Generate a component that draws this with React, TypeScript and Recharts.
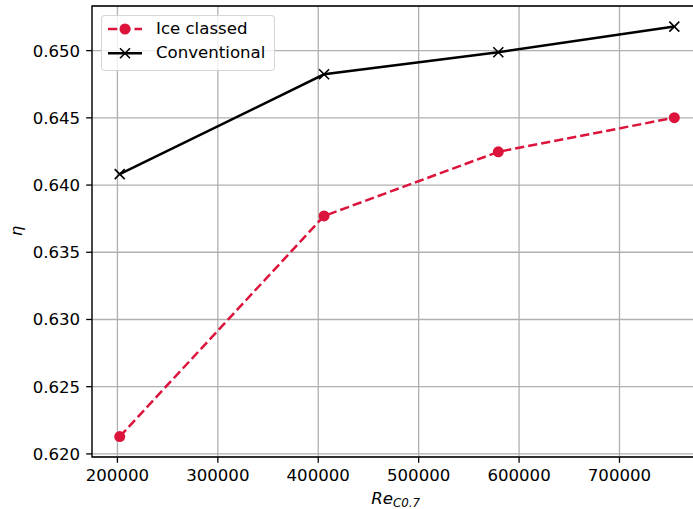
import {
  LineChart,
  Line,
  XAxis,
  YAxis,
  CartesianGrid,
  ReferenceArea,
} from 'recharts';

// Reynolds number at r/R = 0.7
const reynolds = [202300, 405800, 579300, 754600];
const iceClassed = [0.62129, 0.6377, 0.64247, 0.64501];
const conventional = [0.64081, 0.64824, 0.64988, 0.65179];

const xTicks = [200000, 300000, 400000, 500000, 600000, 700000];
const yTicks = [0.62, 0.625, 0.63, 0.635, 0.64, 0.645, 0.65];

const X_DOMAIN: [number, number] = [174690, 782170];
const Y_DOMAIN: [number, number] = [0.61977, 0.65332];

const FONT = "'DejaVu Sans', Verdana, sans-serif";
const RED = '#dc143c';

const iceData = reynolds.map((re, i) => ({ re, eta: iceClassed[i] }));
const convData = reynolds.map((re, i) => ({ re, eta: conventional[i] }));

const Cross = (props: any) => {
  const { cx, cy } = props;
  if (cx == null || cy == null) return null;
  const s = 5;
  return (
    <g stroke="#000" strokeWidth={1.6}>
      <line x1={cx - s} y1={cy - s} x2={cx + s} y2={cy + s} />
      <line x1={cx - s} y1={cy + s} x2={cx + s} y2={cy - s} />
    </g>
  );
};

const LegendBox = () => (
  <div
    style={{
      position: 'absolute',
      left: 101,
      top: 15,
      width: 172,
      height: 54,
      border: '1.3px solid rgba(204,204,204,0.8)',
      borderRadius: 4,
      background: 'rgba(255,255,255,0.8)',
      fontFamily: FONT,
      fontSize: 16.6,
      color: '#000',
    }}
  >
    <svg width={50} height={54} style={{ position: 'absolute', left: 0, top: 0 }}>
      <line x1={6} y1={13} x2={40} y2={13} stroke={RED} strokeWidth={2.5} strokeDasharray="9.25 4" />
      <circle cx={23} cy={13} r={5.5} fill={RED} />
      <line x1={6} y1={37.3} x2={40} y2={37.3} stroke="#000" strokeWidth={2.5} />
      <Cross cx={23} cy={37.3} />
    </svg>
    <div style={{ position: 'absolute', left: 54, top: 3, lineHeight: '20px' }}>Ice classed</div>
    <div style={{ position: 'absolute', left: 54, top: 27, lineHeight: '20px' }}>Conventional</div>
  </div>
);

export default function App() {
  return (
    <div
      style={{
        position: 'absolute',
        left: 0,
        top: 0,
        width: 693,
        height: 509,
        overflow: 'hidden',
        background: '#fff',
      }}
    >
      <LineChart
        width={712}
        height={509}
        margin={{ top: 6, right: 10, left: 0, bottom: 0 }}
      >
        <CartesianGrid stroke="#b0b0b0" strokeWidth={1.3} />
        <XAxis
          dataKey="re"
          type="number"
          domain={X_DOMAIN}
          ticks={xTicks}
          allowDataOverflow
          height={52}
          stroke="#000"
          tickSize={5.8}
          tickMargin={6.5}
          axisLine={false}
          tickLine={{ stroke: '#000', strokeWidth: 1.3 }}
          tick={{ fill: '#000', fontSize: 16.6, fontFamily: FONT }}
          tickFormatter={(v: number) => String(v)}
        />
        <YAxis
          type="number"
          domain={Y_DOMAIN}
          ticks={yTicks}
          allowDataOverflow
          width={92}
          stroke="#000"
          tickSize={5.8}
          tickMargin={6}
          axisLine={false}
          tickLine={{ stroke: '#000', strokeWidth: 1.3 }}
          tick={{ fill: '#000', fontSize: 16.6, fontFamily: FONT }}
          tickFormatter={(v: number) => v.toFixed(3)}
        />
        <ReferenceArea
          x1={X_DOMAIN[0]}
          x2={X_DOMAIN[1]}
          y1={Y_DOMAIN[0]}
          y2={Y_DOMAIN[1]}
          fill="none"
          stroke="#000"
          strokeWidth={1.3}
          ifOverflow="visible"
        />
        <Line
          data={iceData}
          dataKey="eta"
          name="Ice classed"
          stroke={RED}
          strokeWidth={2.5}
          strokeDasharray="9.25 4"
          dot={{ r: 5.5, fill: RED, stroke: RED, strokeWidth: 0 }}
          isAnimationActive={false}
          type="linear"
        />
        <Line
          data={convData}
          dataKey="eta"
          name="Conventional"
          stroke="#000"
          strokeWidth={2.5}
          dot={<Cross />}
          isAnimationActive={false}
          type="linear"
        />
        <text
          x={382}
          y={504}
          fontFamily={FONT}
          fontSize={16.6}
          fontStyle="italic"
          textAnchor="middle"
          fill="#000"
        >
          Re
        </text>
        <text x={393} y={507} fontFamily={FONT} fontSize={11.8} fontStyle="italic" fill="#000">
          C0.7
        </text>
        <text
          x={16}
          y={231}
          fontFamily={FONT}
          fontSize={16.6}
          fontStyle="italic"
          textAnchor="middle"
          dominantBaseline="central"
          transform="rotate(-90 16 231)"
          fill="#000"
        >
          η
        </text>
      </LineChart>
      <LegendBox />
    </div>
  );
}
